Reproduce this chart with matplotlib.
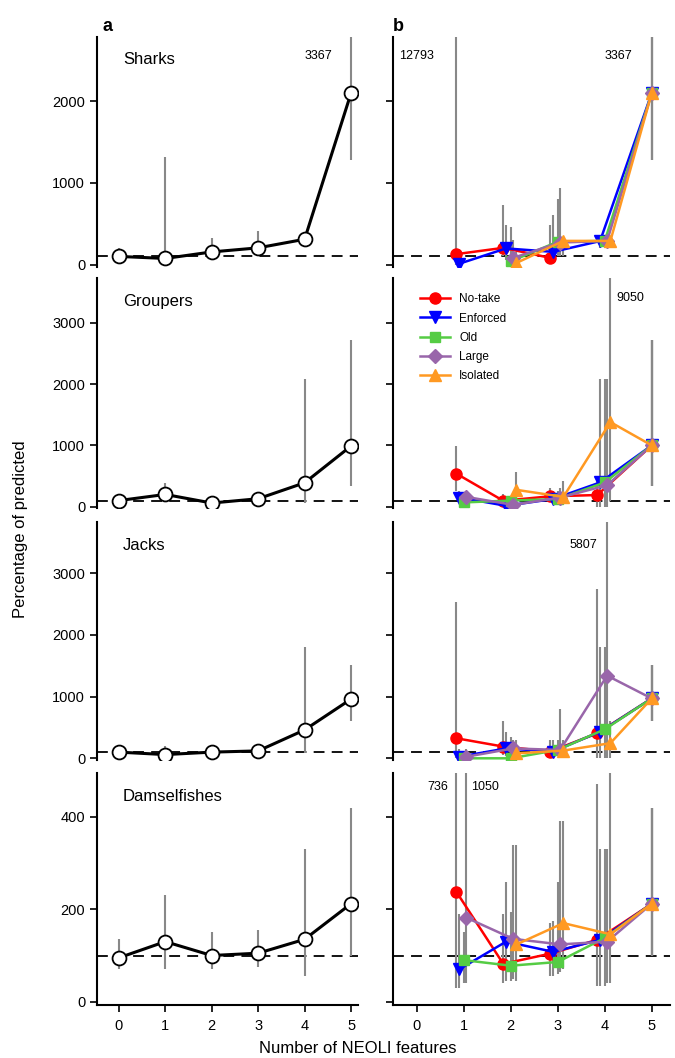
import numpy as np
import matplotlib
matplotlib.use("Agg")
import matplotlib.pyplot as plt

plt.rcParams['font.family'] = ['Liberation Sans', 'DejaVu Sans']

nan = np.nan
x = [0, 1, 2, 3, 4, 5]
taxa = ["Sharks", "Groupers", "Jacks", "Damselfishes"]
ylims = [(-30, 2790), (-22, 3726), (-27, 3835), (-7, 494)]
yticks = [[0, 1000, 2000], [0, 1000, 2000, 3000], [0, 1000, 2000, 3000], [0, 200, 400]]

# Panel a: mean, low, high
a_mean = [[100, 75, 155, 205, 310, 2100],
          [100, 200, 60, 130, 390, 990],
          [100, 60, 100, 120, 460, 960],
          [95, 130, 100, 105, 135, 212]]
a_low = [[80, 50, 100, 120, 250, 1280],
         [60, 100, 30, 80, 60, 330],
         [60, 20, 60, 80, 90, 600],
         [70, 70, 70, 75, 55, 100]]
a_high = [[200, 1320, 330, 410, 330, 2790],
          [150, 380, 100, 200, 2080, 2720],
          [150, 200, 140, 160, 1800, 1520],
          [135, 230, 150, 155, 330, 420]]
a_notes = [[(4.3, 2550, "3367")], [], [], []]

series = ["No-take", "Enforced", "Old", "Large", "Isolated"]
colors = ["#ff0000", "#0000ff", "#55cc44", "#9966aa", "#ff9922"]
markers = ["o", "v", "s", "D", "^"]
msizes = [8, 8, 7, 7, 8]
offsets = [-0.16, -0.1, 0.0, 0.05, 0.12]
xb = [1, 2, 3, 4, 5]

b_vals = {
    "Sharks": [[128, 205, 82, nan, nan],
               [10, 198, 156, 288, 2100],
               [nan, 40, 280, 290, 2100],
               [nan, 82, 270, 290, 2100],
               [nan, 20, 290, 290, 2100]],
    "Groupers": [[540, 97, 170, 190, 1000],
                 [150, 15, 125, 395, 1000],
                 [70, 100, 125, 395, 1000],
                 [160, 30, 150, 350, 1000],
                 [nan, 275, 160, 1380, 1000]],
    "Jacks": [[325, 190, 110, 405, 970],
              [25, 160, 110, 430, 970],
              [0, 0, 135, 470, 970],
              [25, 160, 135, 1340, 970],
              [nan, 80, 125, 245, 970]],
    "Damselfishes": [[238, 82, 104, 134, 212],
                     [70, 130, 108, 134, 212],
                     [90, 78, 86, 138, 212],
                     [182, 136, 124, 130, 212],
                     [nan, 124, 170, 146, 212]],
}
b_low = {
    "Sharks": [[0, 100, 60, nan, nan], [0, 60, 60, 200, 1280], [nan, 0, 100, 200, 1280],
               [nan, 0, 100, 200, 1280], [nan, 0, 100, 200, 1280]],
    "Groupers": [[260, 30, 80, 0, 330], [60, 0, 40, 0, 330], [20, 30, 40, 0, 330],
                 [60, 0, 60, 0, 330], [nan, 100, 40, 100, 330]],
    "Jacks": [[0, 60, 40, 0, 600], [0, 40, 40, 0, 600], [0, 0, 40, 0, 600],
              [0, 60, 40, 0, 600], [nan, 20, 40, 0, 600]],
    "Damselfishes": [[30, 40, 55, 35, 100], [30, 45, 55, 35, 100], [40, 45, 60, 35, 100],
                     [40, 50, 65, 40, 100], [nan, 45, 70, 40, 100]],
}
b_high = {
    "Sharks": [[2790, 730, 480, nan, nan], [150, 480, 610, 330, 2790], [nan, 460, 800, 330, 2790],
               [nan, 300, 940, 330, 2790], [nan, 150, 340, 330, 2790]],
    "Groupers": [[990, 200, 300, 500, 2720], [250, 150, 250, 2080, 2720], [150, 150, 250, 2080, 2720],
                 [250, 200, 300, 2080, 2720], [nan, 560, 420, 3726, 2720]],
    "Jacks": [[2530, 600, 300, 2750, 1520], [150, 420, 300, 1800, 1520], [100, 350, 300, 1800, 1520],
              [150, 300, 800, 3835, 1520], [nan, 300, 300, 600, 1520]],
    "Damselfishes": [[494, 190, 170, 470, 420], [190, 260, 175, 330, 420], [150, 195, 260, 330, 420],
                     [494, 340, 390, 330, 420], [nan, 340, 390, 500, 420]],
}
b_notes = {"Sharks": [(0.0, 2550, "12793"), (4.3, 2550, "3367")],
           "Groupers": [(4.55, 3400, "9050")],
           "Jacks": [(3.55, 3450, "5807")],
           "Damselfishes": [(0.45, 465, "736"), (1.45, 465, "1050")]}

fig = plt.figure(figsize=(6.75, 10.58), dpi=100)
lefts = [0.1437, 0.582]
widths = [0.3867, 0.410]
xlims = [(-0.47, 5.15), (-0.51, 5.38)]
bottoms = [0.7476, 0.5198, 0.2817, 0.0501]
heights = [0.2177, 0.2172, 0.2252, 0.219]
gray = "#888888"

for r, t in enumerate(taxa):
    for c in range(2):
        ax = fig.add_axes([lefts[c], bottoms[r], widths[c], heights[r]])
        ax.set_xlim(*xlims[c])
        ax.set_ylim(*ylims[r])
        ax.axhline(100, color="black", ls=(0, (6, 4)), lw=1.3, zorder=1)
        for s in ["top", "right"]:
            ax.spines[s].set_visible(False)
        ax.spines["left"].set_linewidth(1.5)
        ax.spines["bottom"].set_linewidth(1.5)
        if r < 3:
            ax.spines["bottom"].set_visible(False)
            ax.set_xticks([])
        else:
            ax.set_xticks(x)
            ax.tick_params(axis="x", labelsize=10.5, length=5, width=1.2, pad=5)
        ax.set_yticks(yticks[r])
        ax.tick_params(axis="y", labelsize=10.5, length=5, width=1.2)
        if c == 0:
            ax.text(0.1, 0.9, t, transform=ax.transAxes, fontsize=12, va="center")
            ax.vlines(x, a_low[r], a_high[r], color=gray, lw=1.5, zorder=2)
            ax.plot(x, a_mean[r], color="black", lw=2.2, marker="o", ms=10,
                    mfc="white", mec="black", mew=1.3, zorder=3)
            for (tx, ty, s) in a_notes[r]:
                ax.text(tx, ty, s, fontsize=9, ha="center", va="center")
        else:
            ax.set_yticklabels([])
            for i in range(5):
                xs = [xv + (offsets[i] if xv < 5 else 0) for xv in xb]
                ax.vlines(xs, b_low[t][i], b_high[t][i], color=gray, lw=1.5, zorder=2)
            for i in range(5):
                xs = [xv + (offsets[i] if xv < 5 else 0) for xv in xb]
                ax.plot(xs, b_vals[t][i], color=colors[i], marker=markers[i], ms=msizes[i],
                        lw=1.8, label=series[i], zorder=3 + i)
            for (tx, ty, s) in b_notes[t]:
                ax.text(tx, ty, s, fontsize=9, ha="center", va="center")
            if r == 1:
                ax.legend(loc="upper left", bbox_to_anchor=(0.06, 0.98), frameon=False,
                          fontsize=8.5, handlelength=2.5, labelspacing=0.6)
        if r == 0:
            ax.text(0.02 if c == 0 else 0.0, 1.045, "a" if c == 0 else "b",
                    transform=ax.transAxes, fontsize=13, fontweight="bold", va="center")

fig.text(0.03, 0.5, "Percentage of predicted", rotation=90, fontsize=12, va="center", ha="center")
fig.text(0.53, 0.009, "Number of NEOLI features", fontsize=12, ha="center", va="center")
fig.savefig("out.png", dpi=100)
